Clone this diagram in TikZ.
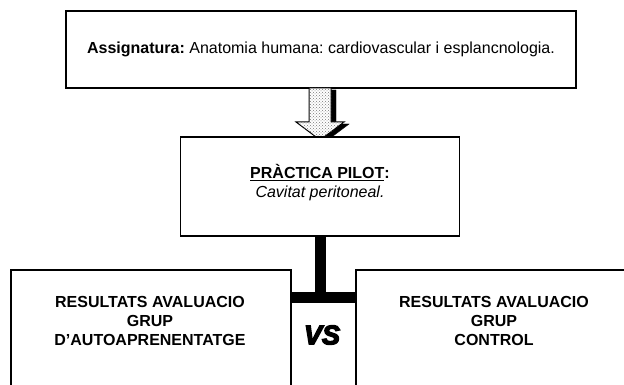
\documentclass[tikz,border=0pt]{standalone}
\usepackage{fontspec}
\setmainfont{Liberation Sans}
\newfontfamily\vsfont[BoldItalicFeatures={FakeBold=5}]{Liberation Sans}
\usetikzlibrary{patterns}
\definecolor{dotgray}{HTML}{7A7A7A}
\frenchspacing

\begin{document}
\begin{tikzpicture}[x=1pt,y=-1pt,
		frame/.style={draw=black,line width=1.5pt,fill=white,inner sep=0pt},
		bar/.style={line width=11pt,color=black},
		boxtext/.style={align=center,font=\fontsize{16}{19}\selectfont},
		restext/.style={align=center,font=\fontsize{16}{19}\selectfont\bfseries}]
		%
		\useasboundingbox (0,0) rectangle (624,385);
		\clip (0,0) rectangle (624,385);
		%
		\node[frame,boxtext,minimum width=510,minimum height=77] (asig) at (321,49.5) {\textbf{Assignatura:} Anatomia humana: cardiovascular i esplancnologia.};
		%
		\draw[fill=black,draw=black,shift={(5,2)}] (309,88) -- (331,88) -- (331,122) -- (344,122) -- (320,140) -- (296,122) -- (309,122) -- cycle; %shadow
		\draw[fill=white,draw=black,line width=1pt,postaction={pattern=crosshatch dots,pattern color=dotgray}] (309,88) -- (331,88) -- (331,122) -- (344,122) -- (320,140) -- (296,122) -- (309,122) -- cycle;
		%
		\node[frame,minimum width=279,minimum height=99] (pilot) at (320,186.5) {};
		\node[boxtext] (pilottxt) at (320,182.5) {\textbf{\underline{PRÀCTICA PILOT}:}\\\textit{Cavitat peritoneal.}};
		%
		\node[frame,anchor=north west,minimum width=280,minimum height=150] (grupA) at (10,269) {};
		\node[frame,anchor=north west,minimum width=280,minimum height=150] (grupC) at (355,269) {};
		\node[restext] (grupAtxt) at (150,321) {RESULTATS AVALUACIO\\GRUP\\D’AUTOAPRENENTATGE};
		\node[restext] (grupCtxt) at (494,321) {RESULTATS AVALUACIO\\GRUP\\CONTROL};
		%
		\coordinate (tee) at (322,297.5);
		\draw[bar] (pilot.south) -- (pilot.south |- tee);
		\draw[bar] (grupA.east |- tee) -- (grupC.west |- tee);
		%
		\node[font=\vsfont\fontsize{27}{27}\selectfont\bfseries\itshape] (vs) at (322,335) {VS};
	\end{tikzpicture}
\end{document}
